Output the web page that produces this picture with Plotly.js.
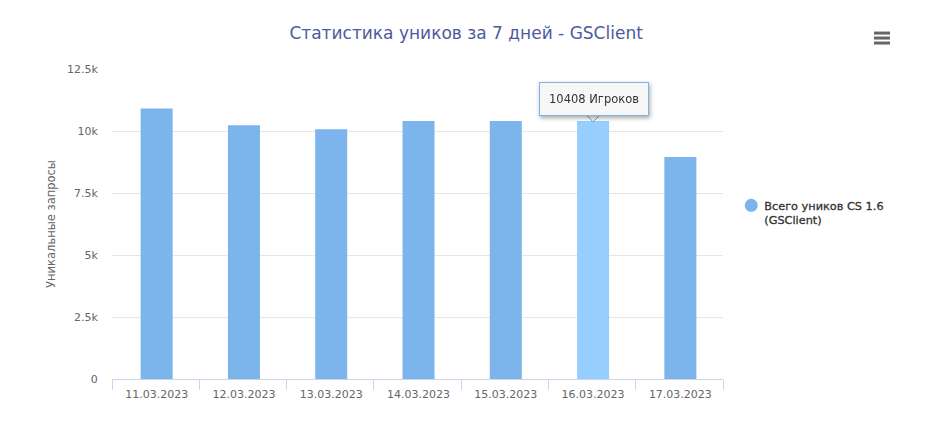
<!DOCTYPE html>
<html>
<head>
<meta charset="utf-8">
<script src="https://cdn.plot.ly/plotly-3.0.1.min.js"></script>
<style>
html, body { margin: 0; padding: 0; background: #fff; }
/* plotly keeps the legend symbol 20px+ from the text, the original is tighter */
.legend .legendsymbols { transform: translate(7px, 0); }
.legend .legendtext { stroke: #333; stroke-width: 0.3px; }
.annotation { filter: drop-shadow(1px 2px 2px rgba(0, 0, 0, 0.35)); }
</style>
</head>
<body>
<div id="chart" style="width:936px;height:438px;"></div>
<script>
var days = ['11.03.2023', '12.03.2023', '13.03.2023', '14.03.2023', '15.03.2023', '16.03.2023', '17.03.2023'];
var uniques = [10910, 10230, 10070, 10400, 10400, 10408, 8950];
var yTicks = [0, 2500, 5000, 7500, 10000, 12500];
var yLabels = ['0', '2.5k', '5k', '7.5k', '10k', '12.5k'];
var seriesName = 'Всего уников CS 1.6<br>(GSClient)';
var hoverIndex = 5;

var font = 'DejaVu Sans, sans-serif';
var barColors = days.map(function (d, i) { return i === hoverIndex ? '#95ceff' : '#7cb5ec'; });

var bars = {
    x: days,
    y: uniques,
    type: 'bar',
    width: 0.367,
    offset: -0.172,
    marker: { color: barColors, line: { width: 0 } },
    showlegend: false,
    hoverinfo: 'skip'
};

// only here to get a round marker in the legend
var legendTrace = {
    x: [null],
    y: [null],
    name: seriesName,
    type: 'scatter',
    mode: 'markers',
    marker: { color: '#7cb5ec', size: 13, symbol: 'circle' }
};

var tipText = uniques[hoverIndex] + ' Игроков';

var layout = {
    width: 936,
    height: 438,
    margin: { l: 112, r: 213, t: 68.5, b: 59, pad: 0 },
    paper_bgcolor: '#fff',
    plot_bgcolor: '#fff',
    font: { family: font, color: '#666' },
    title: {
        text: 'Статистика уников за 7 дней - GSClient',
        font: { family: font, size: 17, color: '#4d5aa0' },
        x: 0.498, xref: 'container', xanchor: 'center',
        y: 0.925, yref: 'container', yanchor: 'middle'
    },
    xaxis: {
        type: 'category',
        range: [-0.5, 6.5],
        tickson: 'boundaries',
        ticks: 'outside',
        ticklen: 10,
        ticklabelstandoff: 5,
        ticklabelshift: 1,
        tickcolor: '#ccd6eb',
        tickwidth: 1,
        showline: true,
        linecolor: '#ccd6eb',
        linewidth: 1,
        showgrid: false,
        tickfont: { family: font, size: 11, color: '#666' }
    },
    yaxis: {
        range: [0, 12500],
        tickvals: yTicks,
        ticktext: yLabels,
        gridcolor: '#e6e6e6',
        gridwidth: 1,
        zeroline: false,
        ticks: 'outside',
        ticklen: 11,
        tickcolor: 'rgba(0,0,0,0)',
        tickfont: { family: font, size: 11, color: '#666' },
        title: { text: 'Уникальные запросы', font: { family: font, size: 11.5, color: '#666' }, standoff: 8 }
    },
    legend: {
        x: 1.002, y: 0.605, xanchor: 'left', yanchor: 'top', valign: 'top',
        font: { family: font, size: 11.3, color: '#333' },
        bgcolor: 'rgba(0,0,0,0)'
    },
    annotations: [
        {
            x: days[hoverIndex], y: uniques[hoverIndex], xref: 'x', yref: 'y',
            text: tipText, showarrow: false, yanchor: 'bottom', yshift: 5, xshift: 2,
            font: { family: font, size: 11.5, color: '#333' },
            bgcolor: '#f7f7f7', bordercolor: '#7cb5ec', borderwidth: 1, borderpad: 9
        }
    ],
    shapes: [
        // tooltip pointer, sits on top of the hovered bar
        {
            type: 'path', layer: 'above',
            xref: 'x', yref: 'y',
            xsizemode: 'pixel', ysizemode: 'pixel',
            xanchor: hoverIndex, yanchor: uniques[hoverIndex],
            path: 'M -6 6 L 1 -1 L 8 6 Z',
            fillcolor: '#f7f7f7',
            line: { width: 0 }
        },
        {
            type: 'path', layer: 'above',
            xref: 'x', yref: 'y',
            xsizemode: 'pixel', ysizemode: 'pixel',
            xanchor: hoverIndex, yanchor: uniques[hoverIndex],
            path: 'M -5 5 L 1 -1 L 7 5',
            line: { color: '#7f9cb8', width: 1 }
        }
    ].concat([32.5, 37.5, 42.5].map(function (py) {
        // hamburger menu
        return {
            type: 'line', xref: 'paper', yref: 'paper', layer: 'above',
            x0: (874 - 112) / 611, x1: (890 - 112) / 611,
            y0: (379 - py) / 310.5, y1: (379 - py) / 310.5,
            line: { color: '#666', width: 3 }
        };
    }))
};

Plotly.newPlot('chart', [bars, legendTrace], layout, { displayModeBar: false, staticPlot: true });
</script>
</body>
</html>
